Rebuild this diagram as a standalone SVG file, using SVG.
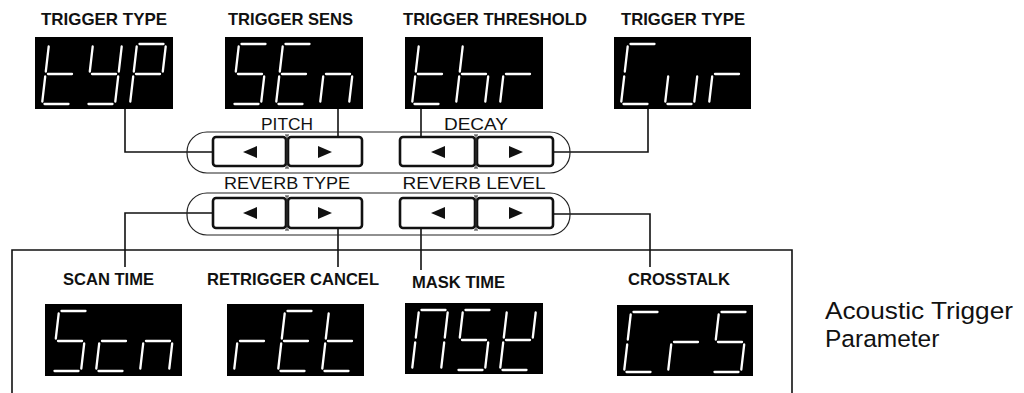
<svg xmlns="http://www.w3.org/2000/svg" xmlns:xlink="http://www.w3.org/1999/xlink" width="1024" height="393" viewBox="0 0 1024 393">
<style>
.bg{fill:#fff}
.disp{fill:#000}
.seg{fill:none;stroke:#fff;stroke-width:2.3;stroke-linecap:round}
.lblb{font-family:"Liberation Sans",Arial,sans-serif;font-weight:bold;font-size:16.5px;fill:#111}
.lbl{font-family:"Liberation Sans",Arial,sans-serif;font-size:16px;fill:#111;text-anchor:middle}
.cap{font-family:"Liberation Sans",Arial,sans-serif;font-size:24.5px;fill:#111}
.pill{fill:none;stroke:#222;stroke-width:1.2}
.btn{fill:#fff;stroke:#111;stroke-width:2.6}
.sep{stroke:#333;stroke-width:1}
.tri{fill:#111}
.wire{fill:none;stroke:#111;stroke-width:1.6}
</style>
<defs>
<path id="sa" class="seg" d="M9.5,-60H33.5"/>
<path id="sb" class="seg" d="M35.7,-57.5L32.8,-32.5"/>
<path id="sc" class="seg" d="M32.2,-27.5L29.3,-2.5"/>
<path id="sd" class="seg" d="M2.5,0H26.5"/>
<path id="se" class="seg" d="M3.2,-27.5L0.3,-2.5"/>
<path id="sf" class="seg" d="M6.7,-57.5L3.8,-32.5"/>
<path id="sg" class="seg" d="M6,-30H30"/>
</defs>
<rect class="bg" x="0" y="0" width="1024" height="393"/>

<g id="connectors">
<path class="wire" d="M125,109V152H213"/>
<path class="wire" d="M338,109V137"/>
<path class="wire" d="M421,109V137"/>
<path class="wire" d="M648,109V152H553"/>
<path class="wire" d="M213,213H125V267"/>
<path class="wire" d="M338,228V267"/>
<path class="wire" d="M421,228V270"/>
<path class="wire" d="M553,214H650V267"/>
</g>

<g id="panel-frame">
<path class="wire" d="M12,393V250H792V393"/>
</g>

<g id="buttons-upper">
<rect class="pill" x="187" y="132" width="383" height="41" rx="20"/>
<text class="lbl" x="287" y="130" textLength="52" lengthAdjust="spacingAndGlyphs">PITCH</text>
<text class="lbl" x="476" y="130" textLength="64" lengthAdjust="spacingAndGlyphs">DECAY</text>
<rect class="btn" x="213" y="137" width="73" height="29" rx="3"/>
<rect class="btn" x="288" y="137" width="74" height="29" rx="3"/>
<rect class="btn" x="400" y="137" width="75" height="29" rx="3"/>
<rect class="btn" x="477" y="137" width="76" height="29" rx="3"/>
<path class="sep" d="M287,135V168M285,135H289M285,168H289M476,135V168M474,135H478M474,168H478"/>
<polygon class="tri" points="243,152 257,146 257,158"/>
<polygon class="tri" points="332,152 318,146 318,158"/>
<polygon class="tri" points="431,152 445,146 445,158"/>
<polygon class="tri" points="523,152 509,146 509,158"/>
</g>

<g id="buttons-lower">
<rect class="pill" x="187" y="193" width="383" height="42" rx="20"/>
<text class="lbl" x="287" y="189" textLength="126" lengthAdjust="spacingAndGlyphs">REVERB TYPE</text>
<text class="lbl" x="474" y="189" textLength="143" lengthAdjust="spacingAndGlyphs">REVERB LEVEL</text>
<rect class="btn" x="213" y="198" width="73" height="30" rx="3"/>
<rect class="btn" x="288" y="198" width="74" height="30" rx="3"/>
<rect class="btn" x="400" y="198" width="75" height="30" rx="3"/>
<rect class="btn" x="477" y="198" width="76" height="30" rx="3"/>
<path class="sep" d="M287,196V230M285,196H289M285,230H289M476,196V230M474,196H478M474,230H478"/>
<polygon class="tri" points="243,213 257,207 257,219"/>
<polygon class="tri" points="332,213 318,207 318,219"/>
<polygon class="tri" points="431,213 445,207 445,219"/>
<polygon class="tri" points="523,213 509,207 509,219"/>
</g>

<g id="trigger-type">
<text class="lblb" x="41" y="25" textLength="126" lengthAdjust="spacingAndGlyphs">TRIGGER TYPE</text>
<rect class="disp" x="35" y="37" width="138" height="72"/>
<use href="#sf" x="42" y="104"/><use href="#se" x="42" y="104"/><use href="#sg" x="42" y="104"/><use href="#sd" x="42" y="104"/>
<use href="#sf" x="86" y="104"/><use href="#sb" x="86" y="104"/><use href="#sg" x="86" y="104"/><use href="#sc" x="86" y="104"/><use href="#sd" x="86" y="104"/>
<use href="#sa" x="130" y="104"/><use href="#sb" x="130" y="104"/><use href="#sf" x="130" y="104"/><use href="#sg" x="130" y="104"/><use href="#se" x="130" y="104"/>
</g>

<g id="trigger-sens">
<text class="lblb" x="228" y="25" textLength="125" lengthAdjust="spacingAndGlyphs">TRIGGER SENS</text>
<rect class="disp" x="225" y="37" width="138" height="72"/>
<use href="#sa" x="232" y="104"/><use href="#sf" x="232" y="104"/><use href="#sg" x="232" y="104"/><use href="#sc" x="232" y="104"/><use href="#sd" x="232" y="104"/>
<use href="#sa" x="276" y="104"/><use href="#sf" x="276" y="104"/><use href="#sg" x="276" y="104"/><use href="#se" x="276" y="104"/><use href="#sd" x="276" y="104"/>
<use href="#se" x="320" y="104"/><use href="#sg" x="320" y="104"/><use href="#sc" x="320" y="104"/>
</g>

<g id="trigger-threshold">
<text class="lblb" x="403" y="25" textLength="184" lengthAdjust="spacingAndGlyphs">TRIGGER THRESHOLD</text>
<rect class="disp" x="405" y="37" width="138" height="72"/>
<use href="#sf" x="412" y="104"/><use href="#se" x="412" y="104"/><use href="#sg" x="412" y="104"/><use href="#sd" x="412" y="104"/>
<use href="#sf" x="456" y="104"/><use href="#se" x="456" y="104"/><use href="#sg" x="456" y="104"/><use href="#sc" x="456" y="104"/>
<use href="#se" x="500" y="104"/><use href="#sg" x="500" y="104"/>
</g>

<g id="trigger-curve">
<text class="lblb" x="621" y="25" textLength="124" lengthAdjust="spacingAndGlyphs">TRIGGER TYPE</text>
<rect class="disp" x="614" y="37" width="137" height="72"/>
<use href="#sa" x="621" y="104"/><use href="#sf" x="621" y="104"/><use href="#se" x="621" y="104"/><use href="#sd" x="621" y="104"/>
<use href="#se" x="665" y="104"/><use href="#sd" x="665" y="104"/><use href="#sc" x="665" y="104"/>
<use href="#se" x="709" y="104"/><use href="#sg" x="709" y="104"/>
</g>

<g id="scan-time">
<text class="lblb" x="63" y="285" textLength="91" lengthAdjust="spacingAndGlyphs">SCAN TIME</text>
<rect class="disp" x="45" y="304" width="137" height="72"/>
<use href="#sa" x="52" y="371"/><use href="#sf" x="52" y="371"/><use href="#sg" x="52" y="371"/><use href="#sc" x="52" y="371"/><use href="#sd" x="52" y="371"/>
<use href="#sg" x="96" y="371"/><use href="#se" x="96" y="371"/><use href="#sd" x="96" y="371"/>
<use href="#se" x="140" y="371"/><use href="#sg" x="140" y="371"/><use href="#sc" x="140" y="371"/>
</g>

<g id="retrigger-cancel">
<text class="lblb" x="207" y="285" textLength="172" lengthAdjust="spacingAndGlyphs">RETRIGGER CANCEL</text>
<rect class="disp" x="227" y="304" width="137" height="72"/>
<use href="#se" x="234" y="371"/><use href="#sg" x="234" y="371"/>
<use href="#sa" x="278" y="371"/><use href="#sf" x="278" y="371"/><use href="#sg" x="278" y="371"/><use href="#se" x="278" y="371"/><use href="#sd" x="278" y="371"/>
<use href="#sf" x="322" y="371"/><use href="#se" x="322" y="371"/><use href="#sg" x="322" y="371"/><use href="#sd" x="322" y="371"/>
</g>

<g id="mask-time">
<text class="lblb" x="412" y="288" textLength="93" lengthAdjust="spacingAndGlyphs">MASK TIME</text>
<rect class="disp" x="405" y="303" width="138" height="71"/>
<use href="#sa" x="412" y="370"/><use href="#sb" x="412" y="370"/><use href="#sc" x="412" y="370"/><use href="#se" x="412" y="370"/><use href="#sf" x="412" y="370"/>
<use href="#sa" x="456" y="370"/><use href="#sf" x="456" y="370"/><use href="#sg" x="456" y="370"/><use href="#sc" x="456" y="370"/><use href="#sd" x="456" y="370"/>
<use href="#sf" x="500" y="370"/><use href="#se" x="500" y="370"/><use href="#sg" x="500" y="370"/><use href="#sd" x="500" y="370"/><use href="#sb" x="500" y="370"/>
</g>

<g id="crosstalk">
<text class="lblb" x="628" y="285" textLength="102" lengthAdjust="spacingAndGlyphs">CROSSTALK</text>
<rect class="disp" x="617" y="305" width="136" height="71"/>
<use href="#sa" x="624" y="372"/><use href="#sf" x="624" y="372"/><use href="#se" x="624" y="372"/><use href="#sd" x="624" y="372"/>
<use href="#se" x="668" y="372"/><use href="#sg" x="668" y="372"/>
<use href="#sa" x="712" y="372"/><use href="#sf" x="712" y="372"/><use href="#sg" x="712" y="372"/><use href="#sc" x="712" y="372"/><use href="#sd" x="712" y="372"/>
</g>

<g id="caption">
<text class="cap" x="825" y="319" textLength="188" lengthAdjust="spacingAndGlyphs">Acoustic Trigger</text>
<text class="cap" x="825" y="347">Parameter</text>
</g>
</svg>
